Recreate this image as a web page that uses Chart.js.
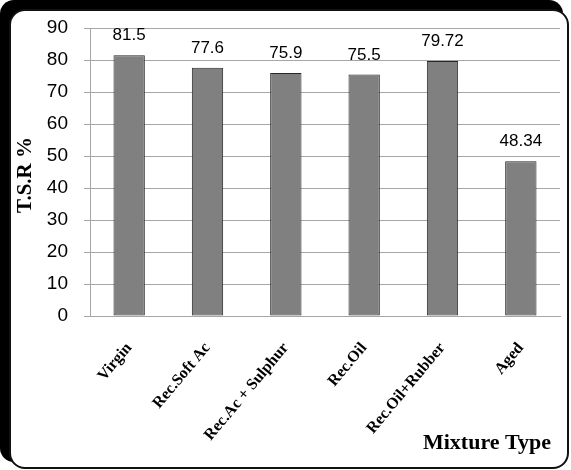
<!DOCTYPE html>
<html>
<head>
<meta charset="utf-8">
<script src="https://cdn.jsdelivr.net/npm/chart.js@4.4.0/dist/chart.umd.min.js"></script>
<style>
  html, body { margin: 0; padding: 0; background: #fff; }
  #wrap { position: relative; width: 571px; height: 470px; overflow: hidden; }
  #shadow { position: absolute; left: 0; top: 0; width: 563px; height: 462px; background: #000; border-radius: 14px; }
  #frame { position: absolute; left: 9px; top: 9px; width: 556px; height: 456px; background: #fff;
           border: 2px solid #111; border-radius: 16px; }
  #chart { position: absolute; left: 0; top: 0; }
</style>
</head>
<body>
<div id="wrap">
  <div id="shadow"></div>
  <div id="frame"></div>
  <canvas id="chart" width="571" height="470"></canvas>
</div>
<script>
// data
const categories = ['Virgin', 'Rec.Soft Ac', 'Rec.Ac + Sulphur', 'Rec.Oil', 'Rec.Oil+Rubber', 'Aged'];
const tsrValues = [81.5, 77.6, 75.9, 75.5, 79.72, 48.34];
const yTicks = [0, 10, 20, 30, 40, 50, 60, 70, 80, 90];

const yTitle = 'T.S.R %';
const xTitle = 'Mixture Type';

// value labels above bars + axis titles
const extraText = {
  id: 'extraText',
  afterDatasetsDraw(chart) {
    const ctx = chart.ctx;
    const meta = chart.getDatasetMeta(0);
    ctx.save();
    ctx.fillStyle = '#000';
    ctx.font = '17px "Liberation Sans", Arial, sans-serif';
    ctx.textAlign = 'center';
    ctx.textBaseline = 'bottom';
    meta.data.forEach((bar, i) => {
      ctx.fillText(String(tsrValues[i]), bar.x, bar.y - 11);
    });

    ctx.font = 'bold 21px "Liberation Serif", "Times New Roman", serif';
    ctx.textBaseline = 'middle';
    ctx.save();
    ctx.translate(26, 175);
    ctx.rotate(-Math.PI / 2);
    ctx.fillText(yTitle, 0, 0);
    ctx.restore();

    ctx.font = 'bold 22px "Liberation Serif", "Times New Roman", serif';
    ctx.fillText(xTitle, 487, 443);
    ctx.restore();
  }
};

const config = {
  type: 'bar',
  data: {
    labels: categories,
    datasets: [{
      data: tsrValues,
      backgroundColor: '#808080',
      borderColor: '#262626',
      borderWidth: 1,
      borderSkipped: false,
      barPercentage: 0.4,
      categoryPercentage: 1.0
    }]
  },
  options: {
    responsive: false,
    animation: false,
    devicePixelRatio: 1,
    layout: { padding: { top: 28, right: 11, bottom: 0, left: 0 } },
    plugins: {
      legend: { display: false },
      tooltip: { enabled: false }
    },
    scales: {
      x: {
        grid: { display: false },
        border: { display: true, color: '#a6a6a6' },
        ticks: {
          minRotation: 50,
          maxRotation: 50,
          padding: 15,
          color: '#000',
          font: { family: '"Liberation Serif", "Times New Roman", serif', size: 16, weight: 'bold' }
        },
        afterFit(scale) { scale.height = 154; }
      },
      y: {
        min: 0,
        max: 90,
        afterBuildTicks(scale) { scale.ticks = yTicks.map(v => ({ value: v })); },
        grid: { color: '#a6a6a6', tickLength: 6 },
        border: { display: true, color: '#a6a6a6' },
        ticks: {
          padding: 16,
          color: '#000',
          font: { family: '"Liberation Sans", Arial, sans-serif', size: 19 }
        },
        afterFit(scale) { scale.width = 90; }
      }
    }
  },
  plugins: [extraText]
};

new Chart(document.getElementById('chart').getContext('2d'), config);
</script>
</body>
</html>
